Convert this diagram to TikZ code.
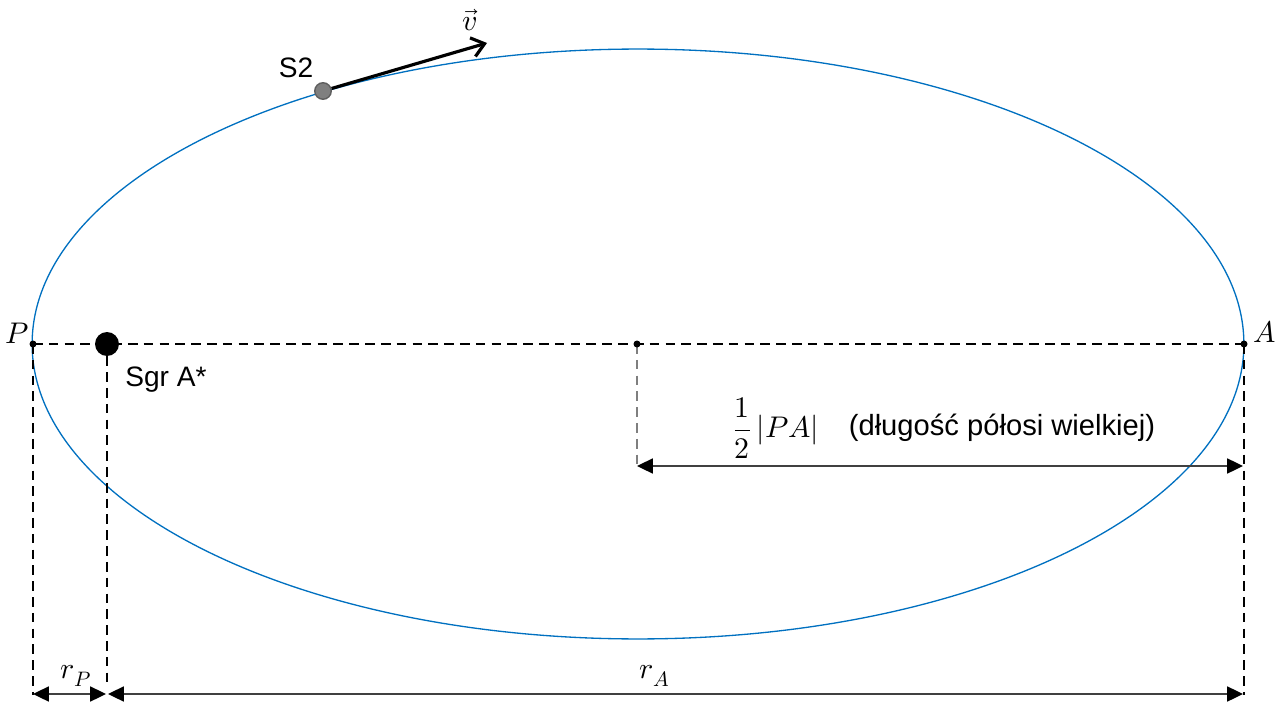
\documentclass[tikz,border=0pt]{standalone}
\usepackage{fontspec}
\usepackage{unicode-math}
\setmainfont{Liberation Sans}
\setmathfont{Latin Modern Math}
\usetikzlibrary{arrows.meta}
\definecolor{orbitblue}{HTML}{0070C0}
\definecolor{dimline}{HTML}{404040}
\definecolor{stargray}{HTML}{7F7F7F}
\definecolor{staredge}{HTML}{5F5F5F}
\pgfdeclarelayer{bg}
\pgfsetlayers{bg,main}
\begin{document}
\begin{tikzpicture}[x=0.02cm,y=-0.02cm,
  lbl/.style={inner sep=0pt, font=\fontsize{16}{19}\selectfont},
  desclbl/.style={inner sep=0pt, font=\fontsize{16.6}{19}\selectfont},
  mlbl/.style={inner sep=0pt, font=\fontsize{17}{20}\selectfont},
  guide/.style={draw=black, line width=0.75pt, dash pattern=on 5.5pt off 3.5pt},
  guidegray/.style={draw=stargray, line width=0.75pt, dash pattern=on 5.5pt off 3.5pt},
  dimarrow/.style={draw=dimline, line width=1.1pt, {Triangle[length=9pt,width=8.5pt,color=black]}-{Triangle[length=9pt,width=8.5pt,color=black]}},
  smalldot/.style={circle, fill=black, inner sep=0pt, minimum size=0.14cm},
  orbit/.style={draw=orbitblue, line width=0.75pt}
]
\useasboundingbox (0,0) rectangle (1280,702);

% points
\node[smalldot] (P) at (33,344) {};
\node[smalldot] (A) at (1244,344) {};
\node[smalldot] (C) at (637,344) {};
\node[circle, fill=black, inner sep=0pt, minimum size=0.48cm] (sgr) at (107,344) {};
\node[circle, fill=stargray, draw=staredge, line width=0.8pt, inner sep=0pt, minimum size=0.33cm] (s2) at (323,91) {};

% helper coordinates
\coordinate (Pb) at (33,695);
\coordinate (Ab) at (1244,695);
\coordinate (sgrend) at (107,683);
\coordinate (rPl) at (33,694);
\coordinate (rPr) at (106,694);
\coordinate (rAl) at (108,694);
\coordinate (rAr) at (1243,694);
\coordinate (Cb) at (637,466);
\coordinate (halfr) at (1243,466);
\coordinate (vtip) at (487,43);

\begin{pgfonlayer}{bg}
  \draw[orbit] (638,344) ellipse [x radius=12.12cm, y radius=5.9cm];
  \draw[guide] (P.center) -- (A.center);
  \draw[guide] (P.center) -- (Pb);
  \draw[guide] (A.center) -- (Ab);
  \draw[guide] (sgr.south) -- (sgrend);
  \draw[guidegray] (C.center) -- (Cb);
\end{pgfonlayer}

% dimension arrows
\draw[dimarrow] (Cb) -- (halfr);
\draw[dimarrow] (rPl) -- (rPr);
\draw[dimarrow] (rAl) -- (rAr);

% velocity
\draw[line width=1.8pt, -{Straight Barb[length=7pt,width=11pt]}] (s2) -- (vtip);

% labels
\node[mlbl] (Plbl) at (17,333) {$P$};
\node[mlbl] (Albl) at (1265,332) {$A$};
\node[lbl, anchor=west] (sgrlbl) at (125,380) {Sgr A*};
\node[lbl] (s2lbl) at (296,68) {S2};
\node[mlbl] (vlbl) at (470,20) {$\vec{v}$};
\node[mlbl] (frac) at (776,428) {$\displaystyle\frac{1}{2}\,|PA|$};
\node[desclbl] (desc) at (1002,428) {(długość półosi wielkiej)};
\node[mlbl] (rPlbl) at (76,676) {$r_P$};
\node[mlbl] (rAlbl) at (655,676) {$r_A$};
\end{tikzpicture}
\end{document}
